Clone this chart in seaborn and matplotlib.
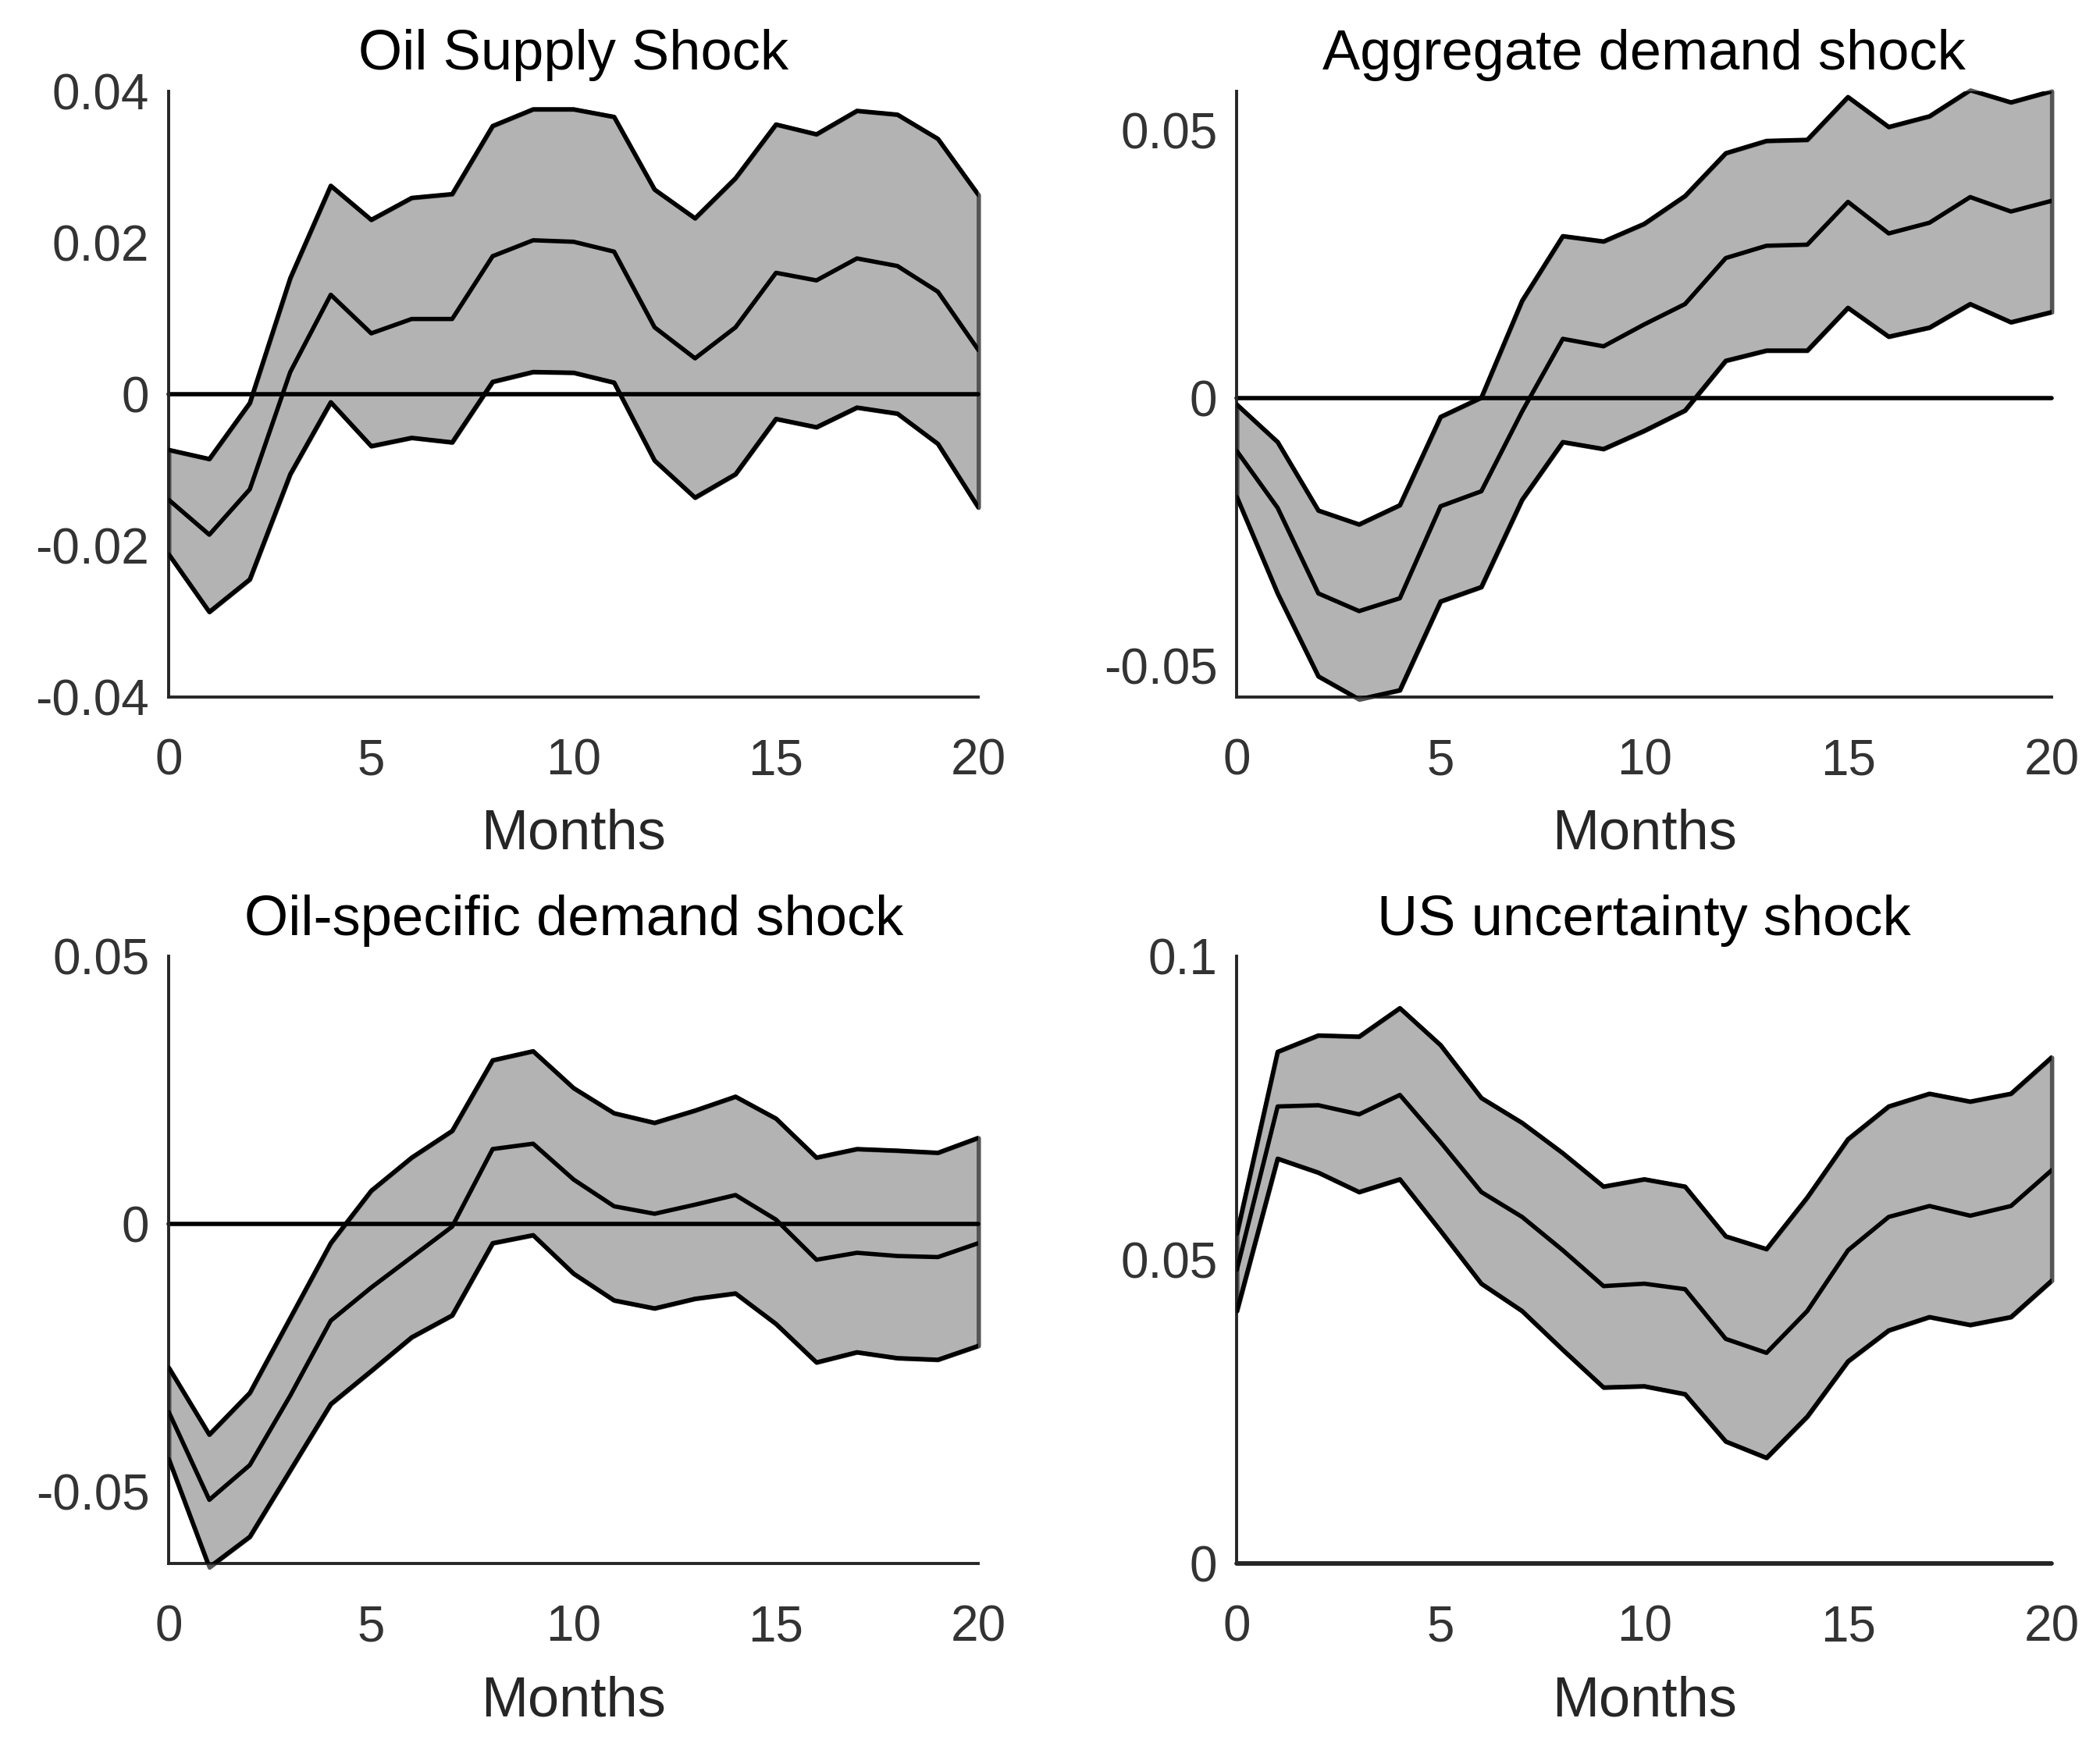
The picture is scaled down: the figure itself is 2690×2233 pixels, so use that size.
import numpy as np
import pandas as pd
import matplotlib
matplotlib.use("Agg")
import matplotlib.pyplot as plt
import seaborn as sns

months = list(range(21))

# Oil supply shock
oil_supply_upper = [-0.0074, -0.0086, -0.0012, 0.0153, 0.0275, 0.0230, 0.0259, 0.0264, 0.0354, 0.0376, 0.0376,
                    0.0366, 0.0270, 0.0232, 0.0285, 0.0356, 0.0343, 0.0374, 0.0369, 0.0337, 0.0263]
oil_supply_median = [-0.0140, -0.0186, -0.0126, 0.0029, 0.0131, 0.0080, 0.0099, 0.0099, 0.0182, 0.0203, 0.0201,
                     0.0188, 0.0088, 0.0047, 0.0088, 0.0160, 0.0150, 0.0179, 0.0169, 0.0135, 0.0058]
oil_supply_lower = [-0.0212, -0.0288, -0.0245, -0.0106, -0.0011, -0.0069, -0.0058, -0.0064, 0.0016, 0.0029, 0.0028,
                    0.0015, -0.0088, -0.0137, -0.0106, -0.0033, -0.0044, -0.0018, -0.0026, -0.0066, -0.0150]

# Aggregate demand shock
agg_demand_upper = [-0.0012, -0.0082, -0.0210, -0.0236, -0.0200, -0.0035, 0.0001, 0.0182, 0.0303, 0.0293, 0.0326,
                    0.0378, 0.0458, 0.0481, 0.0483, 0.0563, 0.0507, 0.0527, 0.0576, 0.0553, 0.0574]
agg_demand_median = [-0.0099, -0.0205, -0.0365, -0.0398, -0.0374, -0.0202, -0.0174, -0.0025, 0.0111, 0.0097, 0.0138,
                     0.0176, 0.0262, 0.0285, 0.0287, 0.0367, 0.0308, 0.0328, 0.0376, 0.0349, 0.0369]
agg_demand_lower = [-0.0185, -0.0365, -0.0520, -0.0563, -0.0546, -0.0380, -0.0353, -0.0190, -0.0082, -0.0095, -0.0061,
                    -0.0023, 0.0070, 0.0089, 0.0089, 0.0169, 0.0115, 0.0132, 0.0176, 0.0142, 0.0161]

# Oil-specific demand shock
oil_demand_upper = [-0.0269, -0.0394, -0.0316, -0.0176, -0.0036, 0.0062, 0.0124, 0.0174, 0.0306, 0.0323, 0.0254,
                    0.0207, 0.0189, 0.0212, 0.0238, 0.0197, 0.0124, 0.0140, 0.0137, 0.0133, 0.0161]
oil_demand_median = [-0.0352, -0.0516, -0.0451, -0.0321, -0.0181, -0.0119, -0.0062, -0.0005, 0.0140, 0.0150, 0.0083,
                     0.0033, 0.0019, 0.0036, 0.0054, 0.0008, -0.0067, -0.0054, -0.0060, -0.0062, -0.0036]
oil_demand_lower = [-0.0440, -0.0642, -0.0585, -0.0461, -0.0337, -0.0275, -0.0212, -0.0171, -0.0036, -0.0021, -0.0093,
                    -0.0143, -0.0158, -0.0140, -0.0130, -0.0187, -0.0259, -0.0240, -0.0251, -0.0254, -0.0228]

# US uncertainty shock
us_unc_upper = [0.0543, 0.0843, 0.0870, 0.0868, 0.0915, 0.0854, 0.0767, 0.0726, 0.0676, 0.0621, 0.0633,
                0.0621, 0.0539, 0.0518, 0.0603, 0.0699, 0.0753, 0.0774, 0.0761, 0.0774, 0.0834]
us_unc_median = [0.0484, 0.0753, 0.0755, 0.0740, 0.0772, 0.0694, 0.0612, 0.0571, 0.0516, 0.0457, 0.0461,
                 0.0452, 0.0370, 0.0347, 0.0416, 0.0516, 0.0571, 0.0589, 0.0573, 0.0589, 0.0648]
us_unc_lower = [0.0416, 0.0667, 0.0644, 0.0612, 0.0633, 0.0548, 0.0461, 0.0416, 0.0352, 0.0290, 0.0292,
                0.0279, 0.0201, 0.0174, 0.0242, 0.0333, 0.0384, 0.0406, 0.0393, 0.0406, 0.0466]

titles = ["Oil Supply Shock", "Aggregate demand shock", "Oil-specific demand shock", "US uncertainty shock"]
ylims = [(-0.04, 0.04), (-0.0558, 0.0574), (-0.0635, 0.05), (0.0, 0.1)]
yticks = [[-0.04, -0.02, 0, 0.02, 0.04], [-0.05, 0, 0.05], [-0.05, 0, 0.05], [0, 0.05, 0.1]]
yticklabels = [["-0.04", "-0.02", "0", "0.02", "0.04"], ["-0.05", "0", "0.05"], ["-0.05", "0", "0.05"],
               ["0", "0.05", "0.1"]]
xticks = [0, 5, 10, 15, 20]

bands = [
    (oil_supply_lower, oil_supply_median, oil_supply_upper),
    (agg_demand_lower, agg_demand_median, agg_demand_upper),
    (oil_demand_lower, oil_demand_median, oil_demand_upper),
    (us_unc_lower, us_unc_median, us_unc_upper),
]

sns.set_style("white")
plt.rcParams['font.family'] = ['Liberation Sans', 'DejaVu Sans']

fig = plt.figure(figsize=(26.9, 22.33), dpi=100)
# axes rectangles: left, bottom, width, height
rects = [
    (0.0804, 0.6003, 0.3855, 0.3474),
    (0.5890, 0.6003, 0.3880, 0.3474),
    (0.0804, 0.1030, 0.3855, 0.3482),
    (0.5890, 0.1030, 0.3880, 0.3482),
]

tick_color = '#333333'

for i, (lo, med, hi) in enumerate(bands):
    ax = fig.add_axes(rects[i])
    df = pd.DataFrame({"Months": months, "lower": lo, "median": med, "upper": hi})

    band = ax.fill_between(df["Months"], df["lower"], df["upper"], facecolor='#b3b3b3',
                           edgecolor='#555555', linewidth=4, zorder=1)
    band.set_clip_on(False)
    # zero line, left unclipped so it thickens the bottom axis when 0 is the limit
    ax.axhline(0, color='black', linewidth=4, zorder=2, clip_on=False)
    for col in ["upper", "median", "lower"]:
        sns.lineplot(data=df, x="Months", y=col, ax=ax, color='black', linewidth=4, zorder=3)

    ax.set_xlim(0, 20)
    ax.set_ylim(*ylims[i])
    ax.set_xticks(xticks)
    ax.set_xticklabels([str(t) for t in xticks])
    ax.set_yticks(yticks[i])
    ax.set_yticklabels(yticklabels[i])

    ax.set_title(titles[i], fontsize=52, color='black', pad=20)
    ax.set_xlabel("Months", fontsize=52, color='#262626', labelpad=22)
    ax.set_ylabel("")

    sns.despine(ax=ax)
    for side in ["left", "bottom"]:
        ax.spines[side].set_color('#262626')
        ax.spines[side].set_linewidth(2.8)
    ax.tick_params(axis='both', direction='in', length=10, width=2.5, colors=tick_color, labelsize=46)
    ax.tick_params(axis='x', pad=38)
    ax.tick_params(axis='y', pad=18)

fig.savefig("out.png", dpi=100, facecolor='white')
